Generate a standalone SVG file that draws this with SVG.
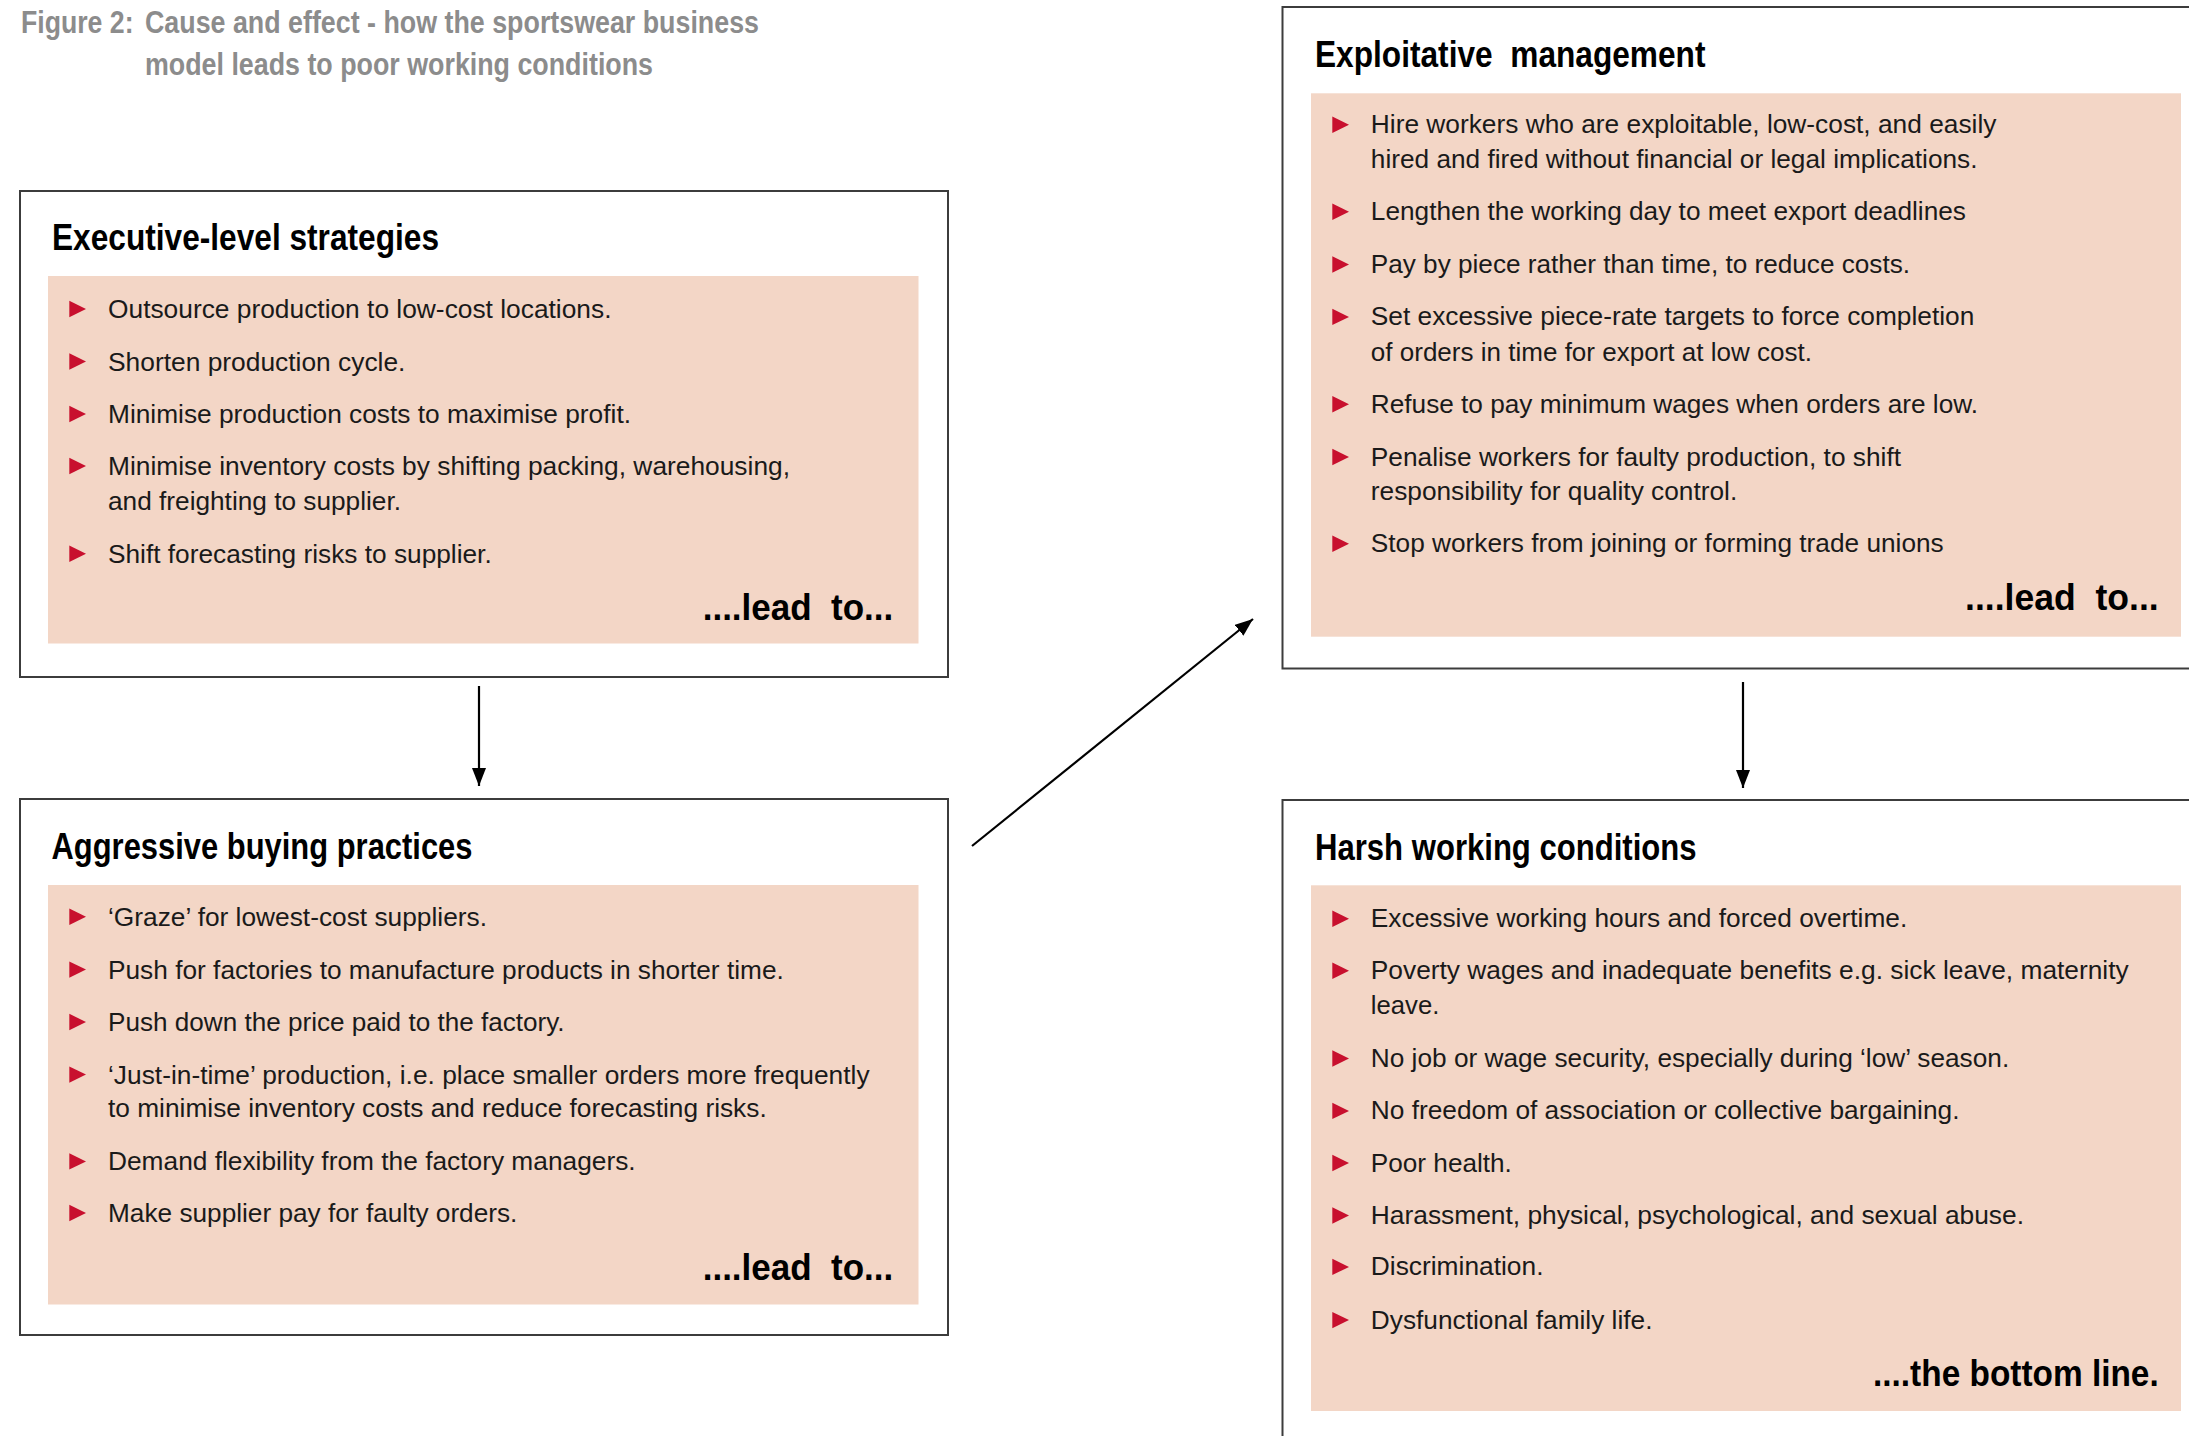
<svg xmlns="http://www.w3.org/2000/svg" xmlns:xlink="http://www.w3.org/1999/xlink" width="2189" height="1436" viewBox="0 0 2189 1436">
  <style>
    .box { fill: #ffffff; stroke: #3c3c3c; stroke-width: 2; }
    .panel { fill: #F3D6C6; }
    .title { font-family: "Liberation Sans", Arial, sans-serif; font-weight: bold; font-size: 32px; fill: #8c8c8c; }
    .head { font-family: "Liberation Sans", Arial, sans-serif; font-weight: bold; font-size: 36px; fill: #000000; }
    .body { font-family: "Liberation Sans", Arial, sans-serif; font-size: 26px; fill: #1a1a1a; }
    .lead { font-family: "Liberation Sans", Arial, sans-serif; font-weight: bold; font-size: 37px; fill: #000000; }
    .conn { stroke: #000000; stroke-width: 2.2; fill: none; marker-end: url(#arrow); }
  </style>
  <defs>
    <marker id="arrow" viewBox="0 0 18 14" refX="18" refY="7" markerWidth="18" markerHeight="14" markerUnits="userSpaceOnUse" orient="auto">
      <path d="M0,0 L18,7 L0,14 Z" fill="#000000"/>
    </marker>
    <path id="tri" d="M0,-8.2 L16.7,0 L0,8.2 Z" fill="#C8102E"/>
  </defs>

  <g id="title">
    <text class="title" x="21" y="32.5" textLength="112.5" lengthAdjust="spacingAndGlyphs">Figure 2:</text>
    <text class="title" x="145" y="32.5" textLength="614" lengthAdjust="spacingAndGlyphs">Cause and effect - how the sportswear business</text>
    <text class="title" x="145" y="75" textLength="508" lengthAdjust="spacingAndGlyphs">model leads to poor working conditions</text>
  </g>

  <g id="executive-level-strategies">
    <rect class="box" x="20" y="191" width="928" height="486"/>
    <text class="head" x="52" y="249.5" textLength="387" lengthAdjust="spacingAndGlyphs">Executive-level strategies</text>
    <rect class="panel" x="48" y="276" width="870.5" height="367.5"/>
    <use xlink:href="#tri" x="69.3" y="309"/>
    <text class="body" x="108" y="318" textLength="503.5" lengthAdjust="spacingAndGlyphs">Outsource production to low-cost locations.</text>
    <use xlink:href="#tri" x="69.3" y="361.5"/>
    <text class="body" x="108" y="370.5" textLength="297.4" lengthAdjust="spacingAndGlyphs">Shorten production cycle.</text>
    <use xlink:href="#tri" x="69.3" y="414"/>
    <text class="body" x="108" y="423" textLength="523" lengthAdjust="spacingAndGlyphs">Minimise production costs to maximise profit.</text>
    <use xlink:href="#tri" x="69.3" y="466"/>
    <text class="body" x="108" y="475" textLength="682" lengthAdjust="spacingAndGlyphs">Minimise inventory costs by shifting packing, warehousing,</text>
    <text class="body" x="108" y="510" textLength="293" lengthAdjust="spacingAndGlyphs">and freighting to supplier.</text>
    <use xlink:href="#tri" x="69.3" y="553.7"/>
    <text class="body" x="108" y="562.7" textLength="383.7" lengthAdjust="spacingAndGlyphs">Shift forecasting risks to supplier.</text>
    <text class="lead" x="702.7" y="620" textLength="190.6" lengthAdjust="spacingAndGlyphs" xml:space="preserve">....lead  to...</text>
  </g>

  <g id="aggressive-buying-practices">
    <rect class="box" x="20" y="799" width="928" height="536"/>
    <text class="head" x="51.5" y="858.5" textLength="421" lengthAdjust="spacingAndGlyphs">Aggressive buying practices</text>
    <rect class="panel" x="48" y="885" width="870.5" height="419.5"/>
    <use xlink:href="#tri" x="69.3" y="916.7"/>
    <text class="body" x="108" y="925.7" textLength="379" lengthAdjust="spacingAndGlyphs">‘Graze’ for lowest-cost suppliers.</text>
    <use xlink:href="#tri" x="69.3" y="969.6"/>
    <text class="body" x="108" y="978.6" textLength="675.8" lengthAdjust="spacingAndGlyphs">Push for factories to manufacture products in shorter time.</text>
    <use xlink:href="#tri" x="69.3" y="1022"/>
    <text class="body" x="108" y="1031" textLength="456.6" lengthAdjust="spacingAndGlyphs">Push down the price paid to the factory.</text>
    <use xlink:href="#tri" x="69.3" y="1074.6"/>
    <text class="body" x="108" y="1083.6" textLength="761.6" lengthAdjust="spacingAndGlyphs">‘Just-in-time’ production, i.e. place smaller orders more frequently</text>
    <text class="body" x="108" y="1116.8" textLength="658.7" lengthAdjust="spacingAndGlyphs">to minimise inventory costs and reduce forecasting risks.</text>
    <use xlink:href="#tri" x="69.3" y="1161.4"/>
    <text class="body" x="108" y="1170.4" textLength="527.6" lengthAdjust="spacingAndGlyphs">Demand flexibility from the factory managers.</text>
    <use xlink:href="#tri" x="69.3" y="1213"/>
    <text class="body" x="108" y="1222" textLength="409.4" lengthAdjust="spacingAndGlyphs">Make supplier pay for faulty orders.</text>
    <text class="lead" x="702.7" y="1280" textLength="190.6" lengthAdjust="spacingAndGlyphs" xml:space="preserve">....lead  to...</text>
  </g>

  <g id="exploitative-management">
    <rect class="box" x="1282.5" y="7" width="930" height="661.5"/>
    <text class="head" x="1315" y="66.7" textLength="390.5" lengthAdjust="spacingAndGlyphs" xml:space="preserve">Exploitative  management</text>
    <rect class="panel" x="1311" y="93.3" width="870" height="543.4"/>
    <use xlink:href="#tri" x="1332.3" y="124.8"/>
    <text class="body" x="1370.8" y="133.3" textLength="625.6" lengthAdjust="spacingAndGlyphs">Hire workers who are exploitable, low-cost, and easily</text>
    <text class="body" x="1370.8" y="168.3" textLength="606.7" lengthAdjust="spacingAndGlyphs">hired and fired without financial or legal implications.</text>
    <use xlink:href="#tri" x="1332.3" y="211.8"/>
    <text class="body" x="1370.8" y="220.3" textLength="595.2" lengthAdjust="spacingAndGlyphs">Lengthen the working day to meet export deadlines</text>
    <use xlink:href="#tri" x="1332.3" y="264.5"/>
    <text class="body" x="1370.8" y="273" textLength="539.2" lengthAdjust="spacingAndGlyphs">Pay by piece rather than time, to reduce costs.</text>
    <use xlink:href="#tri" x="1332.3" y="316.9"/>
    <text class="body" x="1370.8" y="325.4" textLength="603.5" lengthAdjust="spacingAndGlyphs">Set excessive piece-rate targets to force completion</text>
    <text class="body" x="1370.8" y="360.8" textLength="441.2" lengthAdjust="spacingAndGlyphs">of orders in time for export at low cost.</text>
    <use xlink:href="#tri" x="1332.3" y="404.3"/>
    <text class="body" x="1370.8" y="412.8" textLength="607.2" lengthAdjust="spacingAndGlyphs">Refuse to pay minimum wages when orders are low.</text>
    <use xlink:href="#tri" x="1332.3" y="457"/>
    <text class="body" x="1370.8" y="465.5" textLength="530.2" lengthAdjust="spacingAndGlyphs">Penalise workers for faulty production, to shift</text>
    <text class="body" x="1370.8" y="499.8" textLength="366.4" lengthAdjust="spacingAndGlyphs">responsibility for quality control.</text>
    <use xlink:href="#tri" x="1332.3" y="543.8"/>
    <text class="body" x="1370.8" y="552.3" textLength="572.9" lengthAdjust="spacingAndGlyphs">Stop workers from joining or forming trade unions</text>
    <text class="lead" x="1965" y="610" textLength="193.7" lengthAdjust="spacingAndGlyphs" xml:space="preserve">....lead  to...</text>
  </g>

  <g id="harsh-working-conditions">
    <rect class="box" x="1282.5" y="800" width="930" height="700"/>
    <text class="head" x="1315" y="860" textLength="381.6" lengthAdjust="spacingAndGlyphs">Harsh working conditions</text>
    <rect class="panel" x="1311" y="885.3" width="870" height="525.7"/>
    <use xlink:href="#tri" x="1332.3" y="918.7"/>
    <text class="body" x="1370.8" y="927.2" textLength="536.5" lengthAdjust="spacingAndGlyphs">Excessive working hours and forced overtime.</text>
    <use xlink:href="#tri" x="1332.3" y="970.8"/>
    <text class="body" x="1370.8" y="979.3" textLength="757.9" lengthAdjust="spacingAndGlyphs">Poverty wages and inadequate benefits e.g. sick leave, maternity</text>
    <text class="body" x="1370.8" y="1014" textLength="68.5" lengthAdjust="spacingAndGlyphs">leave.</text>
    <use xlink:href="#tri" x="1332.3" y="1058.5"/>
    <text class="body" x="1370.8" y="1067" textLength="638.4" lengthAdjust="spacingAndGlyphs">No job or wage security, especially during ‘low’ season.</text>
    <use xlink:href="#tri" x="1332.3" y="1110.9"/>
    <text class="body" x="1370.8" y="1119.4" textLength="588.7" lengthAdjust="spacingAndGlyphs">No freedom of association or collective bargaining.</text>
    <use xlink:href="#tri" x="1332.3" y="1163"/>
    <text class="body" x="1370.8" y="1171.5" textLength="141.1" lengthAdjust="spacingAndGlyphs">Poor health.</text>
    <use xlink:href="#tri" x="1332.3" y="1215.5"/>
    <text class="body" x="1370.8" y="1224" textLength="653.2" lengthAdjust="spacingAndGlyphs">Harassment, physical, psychological, and sexual abuse.</text>
    <use xlink:href="#tri" x="1332.3" y="1266.9"/>
    <text class="body" x="1370.8" y="1275.4" textLength="172.7" lengthAdjust="spacingAndGlyphs">Discrimination.</text>
    <use xlink:href="#tri" x="1332.3" y="1320.1"/>
    <text class="body" x="1370.8" y="1328.6" textLength="281.7" lengthAdjust="spacingAndGlyphs">Dysfunctional family life.</text>
    <text class="lead" x="1873" y="1386.4" textLength="285.7" lengthAdjust="spacingAndGlyphs">....the bottom line.</text>
  </g>

  <g id="connectors">
    <line class="conn" x1="479" y1="686" x2="479" y2="786"/>
    <line class="conn" x1="972" y1="846" x2="1253" y2="619"/>
    <line class="conn" x1="1743" y1="682" x2="1743" y2="788"/>
  </g>
</svg>
